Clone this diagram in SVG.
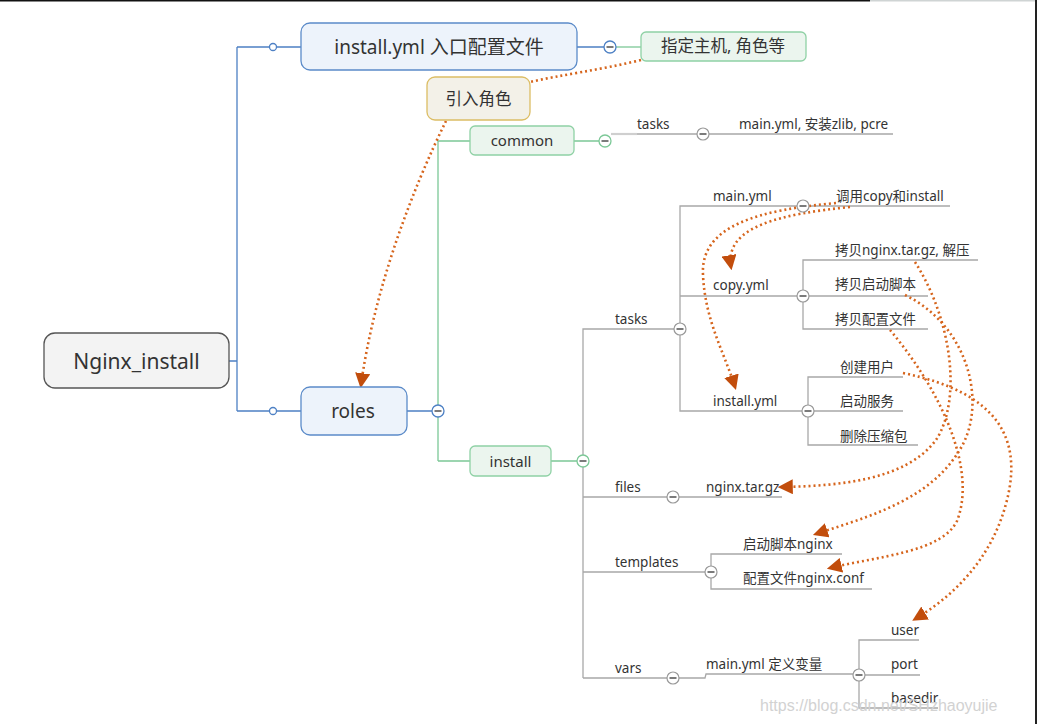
<svg xmlns="http://www.w3.org/2000/svg" width="1039" height="724" viewBox="0 0 1039 724">
<defs>
<marker id="arr" markerUnits="userSpaceOnUse" markerWidth="15" markerHeight="15" viewBox="0 0 14 14" refX="11" refY="7" orient="auto">
<path d="M0,0 L14,7 L0,14 z" fill="#c24d0c"/>
</marker>
<style>
text{font-family:'Noto Sans','Noto Sans CJK SC',sans-serif;fill:#333}
.n1{font-size:19px;text-anchor:middle}
.n2{font-size:15px;text-anchor:middle}
.lb{font-size:13.5px}
.blue{stroke:#4d80c4;stroke-width:1.3;fill:none}
.green{stroke:#7cc897;stroke-width:1.3;fill:none}
.grey{stroke:#a8a8a8;stroke-width:1.3;fill:none}
.cb{fill:#fff;stroke:#4d80c4;stroke-width:1.3}
.cg{fill:#fff;stroke:#7cc897;stroke-width:1.3}
.cy{fill:#fff;stroke:#999;stroke-width:1.2}
.minus{stroke:#333;stroke-width:1.3}
.dot{fill:none;stroke:#d6651d;stroke-width:2.6;stroke-dasharray:2 3}
</style>
</defs>
<rect width="1039" height="724" fill="#fff"/>
<line x1="0" y1="0.75" x2="870" y2="0.75" stroke="#111" stroke-width="1.5"/>
<line x1="870" y1="0.75" x2="1035" y2="0.75" stroke="#cfd4d4" stroke-width="1.5"/>
<line x1="1036" y1="0" x2="1036" y2="724" stroke="#222" stroke-width="2"/>

<g id="connectors">
<!-- root to level 1 -->
<path class="blue" d="M229,361 H237 M237,47 V411 M237,47 H301 M237,411 H301 M577,47 H604 M407,411 H432"/>
<line class="green" x1="616" y1="47" x2="641" y2="47"/>
<!-- roles children -->
<path class="green" d="M438,417 V461 M438,405 V141 H470 M438,461 H470 M574,141 H599 M551,461 H577"/>
<!-- common -->
<path d="M611,134 H637" stroke="#cfcfcf" stroke-width="2.2" fill="none"/>
<path class="grey" d="M637,134 H697 M709,134 H893"/>
<!-- install children -->
<path class="grey" d="M583,467 V678 M583,455 V329 H674 M583,497 H667 M679,497 H782 M583,572 H705 M583,678 H667 M679,678 H705 L706,674 H853"/>
<!-- tasks -->
<path class="grey" d="M680,323 V206 H797 M809,206 H950 M680,335 V411 H802 M686,296 H797 M680,296 H686 M809,296 H815"/>
<path class="grey" d="M803,290 V260 H978 M803,302 V329 H928 M815,296 H928"/>
<path class="grey" d="M808,405 V377 H903 M814,411 H903 M808,417 V445 H918"/>
<!-- templates -->
<path class="grey" d="M711,566 V554 H842 M711,578 V589 H872"/>
<!-- vars -->
<path class="grey" d="M859,669 V640 H919 M865,675 H920 M859,681 V708 H938"/>
<!-- relationship (dotted) lines -->
<path class="dot" d="M641,60 C600,70 560,75 530,82"/>
<path class="dot" d="M446,121 C412,190 374,290 361,385" marker-end="url(#arr)"/>
<path class="dot" d="M850,207 C782,214 724,226 731,267" marker-end="url(#arr)"/>
<path class="dot" d="M836,203 C760,210 700,225 703,275 C705,320 724,352 735,387" marker-end="url(#arr)"/>
<path class="dot" d="M915,262 C952,320 962,400 936,440 C906,480 840,486 781,487" marker-end="url(#arr)"/>
<path class="dot" d="M905,295 C967,325 987,400 962,446 C932,500 870,516 816,534" marker-end="url(#arr)"/>
<path class="dot" d="M890,330 C942,392 977,470 957,521 C942,552 880,556 830,568" marker-end="url(#arr)"/>
<path class="dot" d="M903,373 C1000,393 1022,440 1007,500 C992,560 952,597 915,619" marker-end="url(#arr)"/>
</g>

<g id="collapse-markers">
<circle cx="273" cy="47" r="3.5" class="cb"/>
<circle cx="273" cy="411" r="3.5" class="cb"/>
<circle cx="610" cy="47" r="6" class="cb"/><line class="minus" x1="606.5" y1="47" x2="613.5" y2="47"/>
<circle cx="438" cy="411" r="6" class="cb"/><line class="minus" x1="434.5" y1="411" x2="441.5" y2="411"/>
<circle cx="605" cy="141" r="6" class="cg"/><line class="minus" x1="601.5" y1="141" x2="608.5" y2="141"/>
<circle cx="583" cy="461" r="6" class="cg"/><line class="minus" x1="579.5" y1="461" x2="586.5" y2="461"/>
<circle cx="703" cy="134" r="6" class="cy"/><line class="minus" x1="699.5" y1="134" x2="706.5" y2="134"/>
<circle cx="680" cy="329" r="6" class="cy"/><line class="minus" x1="676.5" y1="329" x2="683.5" y2="329"/>
<circle cx="803" cy="206" r="6" class="cy"/><line class="minus" x1="799.5" y1="206" x2="806.5" y2="206"/>
<circle cx="803" cy="296" r="6" class="cy"/><line class="minus" x1="799.5" y1="296" x2="806.5" y2="296"/>
<circle cx="808" cy="411" r="6" class="cy"/><line class="minus" x1="804.5" y1="411" x2="811.5" y2="411"/>
<circle cx="673" cy="497" r="6" class="cy"/><line class="minus" x1="669.5" y1="497" x2="676.5" y2="497"/>
<circle cx="711" cy="572" r="6" class="cy"/><line class="minus" x1="707.5" y1="572" x2="714.5" y2="572"/>
<circle cx="673" cy="678" r="6" class="cy"/><line class="minus" x1="669.5" y1="678" x2="676.5" y2="678"/>
<circle cx="859" cy="675" r="6" class="cy"/><line class="minus" x1="855.5" y1="675" x2="862.5" y2="675"/>
</g>

<g id="node-root">
<rect x="44" y="333" width="185" height="55" rx="11" fill="#f3f3f3" stroke="#555" stroke-width="1.3"/>
<text x="136.5" y="368.5" font-size="21" text-anchor="middle">Nginx_install</text>
</g>
<g id="node-installyml">
<rect x="301" y="23" width="276" height="47" rx="9" fill="#edf3fb" stroke="#5b8bc9" stroke-width="1.3"/>
<text class="n1" x="439" y="53.5">install.yml 入口配置文件</text>
</g>
<g id="node-roles">
<rect x="301" y="387" width="106" height="48" rx="9" fill="#edf3fb" stroke="#5b8bc9" stroke-width="1.3"/>
<text class="n1" x="353" y="417.5">roles</text>
</g>
<g id="node-hosts">
<rect x="641" y="32" width="165" height="29" rx="5" fill="#ebf5ee" stroke="#8fd1a5" stroke-width="1.3"/>
<text x="723" y="52" font-size="16.5" text-anchor="middle">指定主机, 角色等</text>
</g>
<g id="node-import">
<rect x="427" y="77" width="103" height="43" rx="8" fill="#f3f1e8" stroke="#dcbd64" stroke-width="1.3"/>
<text x="478.5" y="104.5" font-size="16.5" text-anchor="middle">引入角色</text>
</g>
<g id="node-common">
<rect x="470" y="126" width="104" height="29" rx="5" fill="#ebf5ee" stroke="#8fd1a5" stroke-width="1.3"/>
<text class="n2" x="522" y="146">common</text>
</g>
<g id="node-install">
<rect x="470" y="446" width="81" height="30" rx="5" fill="#ebf5ee" stroke="#8fd1a5" stroke-width="1.3"/>
<text class="n2" x="510.5" y="466.5">install</text>
</g>

<g id="labels">
<text class="lb" x="637" y="129">tasks</text>
<text class="lb" x="739" y="129">main.yml, 安装zlib, pcre</text>
<text class="lb" x="615" y="324">tasks</text>
<text class="lb" x="713" y="201">main.yml</text>
<text class="lb" x="836" y="201">调用copy和install</text>
<text class="lb" x="713" y="290">copy.yml</text>
<text class="lb" x="835" y="255">拷贝nginx.tar.gz, 解压</text>
<text class="lb" x="835" y="289">拷贝启动脚本</text>
<text class="lb" x="835" y="324">拷贝配置文件</text>
<text class="lb" x="713" y="406">install.yml</text>
<text class="lb" x="840" y="372">创建用户</text>
<text class="lb" x="840" y="406">启动服务</text>
<text class="lb" x="840" y="441">删除压缩包</text>
<text class="lb" x="615" y="492">files</text>
<text class="lb" x="706" y="492">nginx.tar.gz</text>
<text class="lb" x="615" y="567">templates</text>
<text class="lb" x="743" y="549">启动脚本nginx</text>
<text class="lb" x="743" y="583">配置文件nginx.conf</text>
<text class="lb" x="615" y="673">vars</text>
<text class="lb" x="706" y="669">main.yml 定义变量</text>
<text class="lb" x="891" y="635">user</text>
<text class="lb" x="891" y="669">port</text>
<text class="lb" x="891" y="703">basedir</text>
</g>
<text x="760" y="711" font-family="'Liberation Sans',sans-serif" font-size="16" fill="#d2d2d2" style="fill:#d2d2d2;font-family:'Liberation Sans',sans-serif">https://blog.csdn.net/SHzhaoyujie</text>
</svg>
